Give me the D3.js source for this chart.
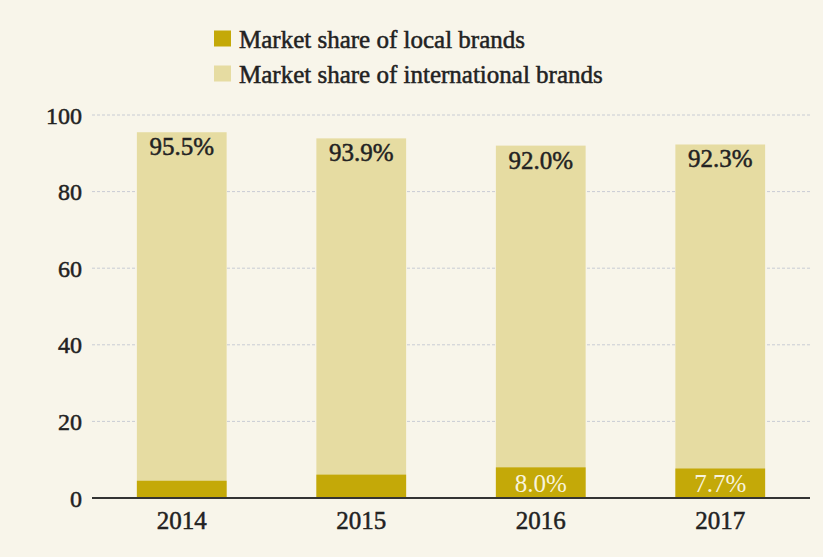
<!DOCTYPE html>
<html>
<head>
<meta charset="utf-8">
<script src="https://cdn.jsdelivr.net/npm/d3@7"></script>
<style>
  html, body { margin: 0; padding: 0; background: #f8f5ea; }
  svg { display: block; }
  text { font-family: "Liberation Serif", "DejaVu Serif", serif; }
</style>
</head>
<body>
<svg id="chart" width="823" height="557"></svg>
<script>
// Market share by year (%)
const years = ["2014", "2015", "2016", "2017"];
const localShare = [4.5, 6.1, 8.0, 7.7];
const internationalShare = [95.5, 93.9, 92.0, 92.3];
const yTicks = [0, 20, 40, 60, 80, 100];
const seriesNames = ["Market share of local brands", "Market share of international brands"];
const seriesColors = ["#c4a908", "#e6dca2"];

const W = 823, H = 557;
const ink = "#222";
const svg = d3.select("#chart");
svg.append("rect").attr("width", W).attr("height", H).attr("fill", "#f8f5ea");

const x = d3.scaleBand().domain(years).range([92, 810]).paddingInner(0.5).paddingOuter(0.25);
const y = d3.scaleLinear().domain([0, 100]).range([498, 115]);

// heavier text weight for the serif labels
const heavy = sel => sel.attr("stroke", function () { return d3.select(this).attr("fill"); })
  .attr("stroke-width", 0.5);

// dashed gridlines
svg.append("g").selectAll("line").data(yTicks.filter(d => d > 0)).join("line")
  .attr("x1", 92).attr("x2", 810)
  .attr("y1", d => y(d)).attr("y2", d => y(d))
  .attr("stroke", "#c9ccd4").attr("stroke-width", 1)
  .attr("stroke-dasharray", "3,2");

// y axis labels
const yAxis = d3.axisLeft(y).tickValues(yTicks).tickSize(0).tickPadding(0).tickFormat(d3.format("d"));
const ya = svg.append("g").attr("transform", "translate(82,0)").call(yAxis);
ya.select(".domain").remove();
ya.selectAll("text").attr("font-size", 24).attr("fill", ink)
  .attr("font-family", "Liberation Serif").attr("dy", "0.34em").call(heavy);

const rows = years.map((yr, i) => ({ yr, local: localShare[i], intl: internationalShare[i] }));

// international share bars (behind)
svg.append("g").selectAll("rect").data(rows).join("rect")
  .attr("x", d => x(d.yr)).attr("width", x.bandwidth())
  .attr("y", d => y(d.intl)).attr("height", d => y(0) - y(d.intl))
  .attr("fill", seriesColors[1]);

// local share bars (front)
svg.append("g").selectAll("rect").data(rows).join("rect")
  .attr("x", d => x(d.yr)).attr("width", x.bandwidth())
  .attr("y", d => y(d.local)).attr("height", d => y(0) - y(d.local))
  .attr("fill", seriesColors[0]);

// value labels
svg.append("g").selectAll("text").data(rows).join("text")
  .attr("x", d => x(d.yr) + x.bandwidth() / 2)
  .attr("y", d => y(d.intl) + 23)
  .attr("text-anchor", "middle").attr("font-size", 25).attr("fill", ink)
  .text(d => d.intl.toFixed(1) + "%").call(heavy);

svg.append("g").selectAll("text").data(rows.filter(d => d.yr === "2016" || d.yr === "2017")).join("text")
  .attr("x", d => x(d.yr) + x.bandwidth() / 2)
  .attr("y", y(0) - 6)
  .attr("text-anchor", "middle").attr("font-size", 25).attr("fill", "#f8f3dc")
  .text(d => d.local.toFixed(1) + "%");

// x axis
const xAxis = d3.axisBottom(x).tickSize(0).tickPadding(13);
const xa = svg.append("g").attr("transform", `translate(0,${y(0)})`).call(xAxis);
xa.select(".domain").attr("stroke", "#333").attr("stroke-width", 2).attr("d", "M92,0H810");
xa.selectAll("text").attr("font-size", 25).attr("fill", ink).attr("font-family", "Liberation Serif").call(heavy);

// legend
const legend = svg.append("g");
seriesNames.forEach((name, i) => {
  const cy = 38.5 + i * 35;
  legend.append("rect").attr("x", 214).attr("y", cy - 8).attr("width", 17).attr("height", 16)
    .attr("fill", seriesColors[i]);
  legend.append("text").attr("x", 239).attr("y", cy + 9)
    .attr("font-size", 25).attr("fill", ink).text(name).call(heavy);
});
</script>
</body>
</html>
